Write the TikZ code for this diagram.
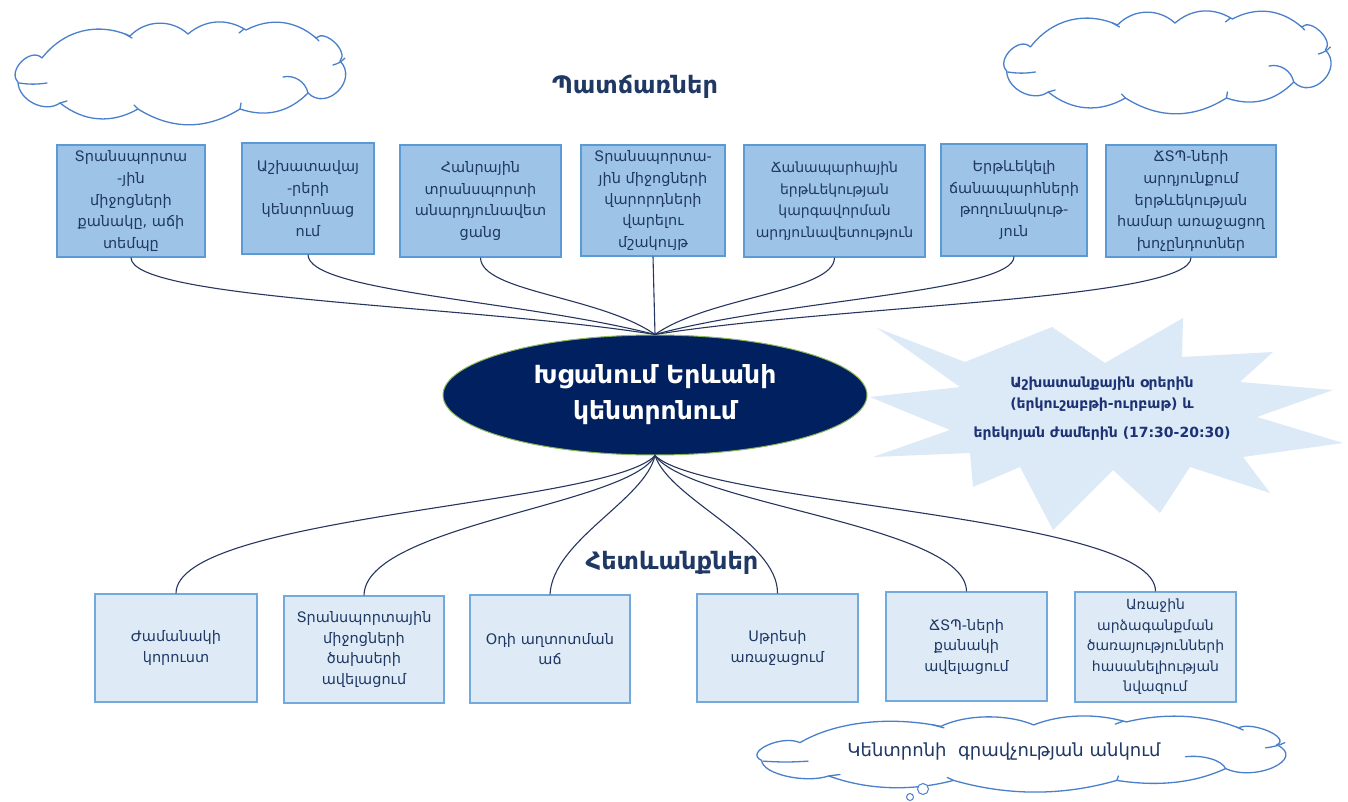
\documentclass[tikz,border=0pt]{standalone}
\usepackage{fontspec}
\setmainfont{DejaVu Sans}
\usetikzlibrary{shapes.geometric}
\definecolor{navy}{HTML}{002060}
\definecolor{inkblue}{HTML}{1F3864}
\definecolor{boxtop}{HTML}{9DC3E6}
\definecolor{boxedge}{HTML}{5B9BD5}
\definecolor{boxlow}{HTML}{DEEBF7}
\definecolor{burst}{HTML}{DCE9F6}
\definecolor{cloudedge}{HTML}{4A7FCC}
\definecolor{wire}{HTML}{26365F}
\definecolor{rim}{HTML}{8FB75A}
\tikzset{
  cloudline/.style={draw=cloudedge, line width=1.3pt, line cap=round, line join=miter},
  % an office-style cloud drawn around its own centre
  cloudy/.pic={
    \path[cloudline, fill=white] (-140,-14) to[bend left=38] (-52,-36)
      to[bend left=44] (6,-38) to[bend left=36] (64,-42)
      to[bend left=34] (134,-34) to[bend left=90] (158,-11)
      to[bend left=90, looseness=1.5] (126,21) to[bend left=32] (58,37)
      to[bend left=32] (-44,37) to[bend left=34] (-122,31)
      to[bend left=62] (-164,10) to[bend left=90, looseness=1.2] (-140,-14);
    % inner curls
    \draw[cloudline] (101,5) to[bend left=45] (126,21);
    \draw[cloudline] (163,-14) to[bend left=15] (151,-7);
    \draw[cloudline] (-163,11) to[bend right=8] (-135,11);
    \draw[cloudline] (-57,-38) -- (-50,-34);
    \draw[cloudline] (62,-43) -- (57,-39);
    \draw[cloudline] (133,-35) -- (137,-31);
    \draw[cloudline] (58,37) -- (59,31);
    \draw[cloudline] (-44,37) -- (-48,33);
    \draw[cloudline] (-122,31) -- (-115,29);
  }
}
\begin{document}
\begin{tikzpicture}[x=1pt,y=-1pt,
  cause/.style={draw=boxedge, line width=1.2pt, fill=boxtop, text=inkblue,
    align=center, inner sep=2pt, font=\fontsize{14.5}{21.5}\selectfont},
  effect/.style={cause, fill=boxlow, draw=boxedge!85,
    font=\fontsize{14.5}{20.5}\selectfont},
  conn/.style={draw=wire, line width=1.1pt},
  bubble/.style={circle, draw=cloudedge, line width=1pt, fill=white, inner sep=0pt},
  heading/.style={text=inkblue, font=\fontsize{24}{28}\selectfont\bfseries}
]
\useasboundingbox (0,0) rectangle (1348,802);

% decorative clouds
\pic (cloudA) at (182,72) {cloudy};
\pic[xscale=0.99] (cloudB) at (1169,61) {cloudy};

% starburst note
\fill[burst] (877,328) -- (965,362) -- (1052,327) -- (1105,363) -- (1183,318)
  -- (1182,357) -- (1273,352) -- (1240,382) -- (1333,390) -- (1257,417)
  -- (1343,443) -- (1243,457) -- (1270,493) -- (1190,467) -- (1160,513)
  -- (1113,470) -- (1053,530) -- (1020,467) -- (973,487) -- (970,453)
  -- (873,457) -- (950,430) -- (870,397) -- (960,387) -- cycle;
\node[text=inkblue!90!blue, align=center, font=\fontsize{14}{21}\selectfont\bfseries]
  (burstnote) at (1102,409)
  {Աշխատանքային օրերին\\(երկուշաբթի-ուրբաթ) և\\[8pt]երեկոյան ժամերին (17:30-20:30)};

% headings
\node[heading] (causes) at (635,87) {Պատճառներ};
\node[heading] (effects) at (672,563) {Հետևանքներ};

% central problem
\node[ellipse, fill=navy, draw=rim, line width=1pt, minimum width=424, minimum height=120,
  text=white, align=center, font=\fontsize{25}{36}\selectfont\bfseries]
  (core) at (655,395) {Խցանում Երևանի\\կենտրոնում};

% causes
\node[cause, minimum width=148, minimum height=112] (t1) at (131,201)
  {Տրանսպորտա\\-յին\\միջոցների\\քանակը, աճի\\տեմպը};
\node[cause, minimum width=132, minimum height=111] (t2) at (308,198.5)
  {Աշխատավայ\\-րերի\\կենտրոնաց\\ում};
\node[cause, minimum width=161, minimum height=112] (t3) at (480.5,201)
  {Հանրային\\տրանսպորտի\\անարդյունավետ\\ցանց};
\node[cause, minimum width=144, minimum height=111] (t4) at (653,200.5)
  {Տրանսպորտա-\\յին միջոցների\\վարորդների\\վարելու\\մշակույթ};
\node[cause, minimum width=181, minimum height=112, font=\fontsize{14}{21.5}\selectfont] (t5) at (834.5,201)
  {Ճանապարհային\\երթևեկության\\կարգավորման\\արդյունավետություն};
\node[cause, minimum width=146, minimum height=112] (t6) at (1014,200)
  {Երթևեկելի\\ճանապարհների\\թողունակութ-\\յուն};
\node[cause, minimum width=170, minimum height=112] (t7) at (1191,201)
  {ՃՏՊ-ների\\արդյունքում\\երթևեկության\\համար առաջացող\\խոչընդոտներ};

% effects
\node[effect, minimum width=162, minimum height=108] (e1) at (176,648)
  {Ժամանակի\\կորուստ};
\node[effect, minimum width=160, minimum height=107] (e2) at (364,649.5)
  {Տրանսպորտային\\միջոցների\\ծախսերի\\ավելացում};
\node[effect, minimum width=160, minimum height=108] (e3) at (550,649)
  {Օդի աղտոտման\\աճ};
\node[effect, minimum width=161, minimum height=108] (e4) at (777.5,648)
  {Սթրեսի\\առաջացում};
\node[effect, minimum width=161, minimum height=109] (e5) at (966.5,646.5)
  {ՃՏՊ-ների\\քանակի\\ավելացում};
\node[effect, minimum width=161, minimum height=110, font=\fontsize{14}{20.5}\selectfont] (e6) at (1155.5,647)
  {Առաջին\\արձագանքման\\ծառայությունների\\հասանելիության\\նվազում};

% cause connectors into the top of the ellipse
\draw[conn] (t1.south) .. controls (131,300) and (470,305) .. (core.north);
\draw[conn] (t2.south) .. controls (308,292) and (520,300) .. (core.north);
\draw[conn] (t3.south) .. controls (481,292) and (600,296) .. (core.north);
\draw[conn] (t4.south) -- (core.north);
\draw[conn] (t5.south) .. controls (834,292) and (710,296) .. (core.north);
\draw[conn] (t6.south) .. controls (1014,292) and (780,300) .. (core.north);
\draw[conn] (t7.south) .. controls (1191,300) and (840,305) .. (core.north);

% effect connectors from the bottom of the ellipse
\draw[conn] (core.south) .. controls (610,505) and (176,515) .. (e1.north);
\draw[conn] (core.south) .. controls (630,505) and (365,525) .. (e2.north);
\draw[conn] (core.south) .. controls (645,500) and (553,540) .. (e3.north);
\draw[conn] (core.south) .. controls (670,500) and (778,540) .. (e4.north);
\draw[conn] (core.south) .. controls (690,505) and (966,525) .. (e5.north);
\draw[conn] (core.south) .. controls (705,505) and (1156,515) .. (e6.north);

% thought cloud with its trailing bubbles
\pic[xscale=1.6, yscale=0.74] (cloudC) at (1024,753) {cloudy};
\node[text=inkblue, font=\fontsize{18}{20}\selectfont] (cloudtext) at (1004,752)
  {Կենտրոնի\ \ գրավչության անկում};
\node[bubble, minimum size=11] (dotA) at (923,789) {};
\node[bubble, minimum size=7] (dotB) at (910,797) {};
\end{tikzpicture}
\end{document}
